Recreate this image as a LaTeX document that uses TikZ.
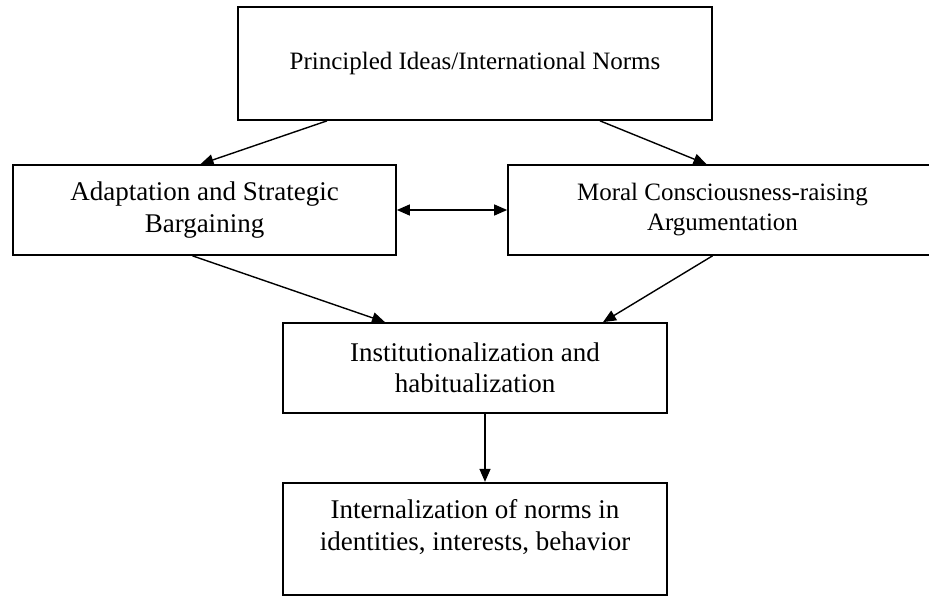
\documentclass[tikz,border=0pt]{standalone}
\usepackage{fontspec}
\setmainfont{Liberation Serif}
\usetikzlibrary{positioning,arrows.meta}

\begin{document}
\begin{tikzpicture}[
  x=1pt,y=-1pt,
  >={Triangle[length=13pt,width=11pt]},
  box/.style={draw,line width=1.7pt,align=center,inner sep=0pt},
  large/.style={font=\fontsize{27}{31.5}\selectfont},
  small/.style={font=\fontsize{25}{30}\selectfont},
  flow/.style={->,line width=1.4pt}
]
  \clip (0,0) rectangle (929,596);
  \node[box,small,minimum width=474pt,minimum height=113pt] (ideas) at (475,63.5) {Principled Ideas/International Norms};
  \node[box,large,minimum width=383pt,minimum height=90pt] (bargaining) at (204.5,210) {Adaptation and Strategic\\Bargaining};
  \node[box,small,minimum width=429pt,minimum height=90pt] (argumentation) at (722.5,210) {Moral Consciousness-raising\\Argumentation};
  \node[box,large,minimum width=384pt,minimum height=90pt] (institution) at (475,368) {Institutionalization and\\habitualization};
  \node[box,large,minimum width=384pt,minimum height=112pt,below=68pt of institution] (internal) {Internalization of norms in\\identities, interests, behavior\\[-4.5pt]\mbox{}};

  \draw[flow] ([xshift=-148pt]ideas.south) -- ([xshift=-4pt]bargaining.north);
  \draw[flow] ([xshift=125pt]ideas.south) -- ([xshift=-16pt]argumentation.north);
  \draw[flow,<->] (bargaining) -- (argumentation);
  \draw[flow] ([xshift=-12pt]bargaining.south) -- ([xshift=-90pt]institution.north);
  \draw[flow] ([xshift=-10pt]argumentation.south) -- ([xshift=128pt]institution.north);
  \draw[flow] ([xshift=10pt]institution.south) -- ([xshift=10pt]internal.north);
\end{tikzpicture}
\end{document}
